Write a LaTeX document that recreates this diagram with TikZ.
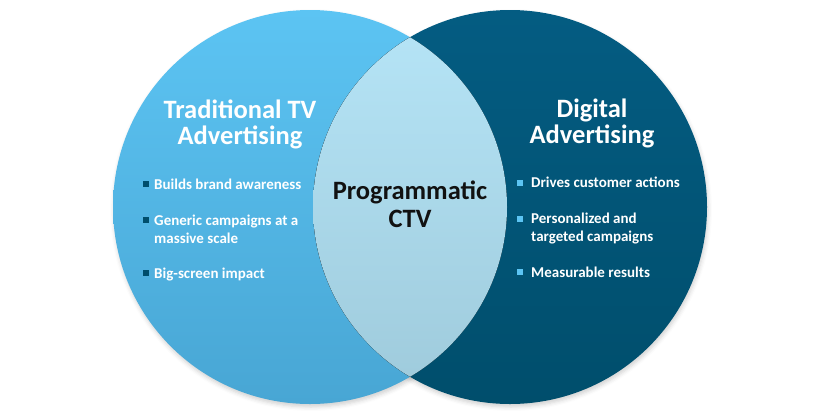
\documentclass[tikz,border=0pt]{standalone}
\usepackage{fontspec}
\setmainfont{Carlito}
\usepackage{xcolor}
\usetikzlibrary{shadows.blur}
\definecolor{skyTop}{RGB}{92, 196, 243}
\definecolor{skyBot}{RGB}{72, 166, 212}
\definecolor{navyTop}{RGB}{4, 92, 130}
\definecolor{navyBot}{RGB}{0, 78, 108}
\definecolor{lensTop}{RGB}{182, 229, 247}
\definecolor{lensBot}{RGB}{158, 202, 219}
\definecolor{ink}{RGB}{17, 17, 17}

\begin{document}
\begin{tikzpicture}[
  x=1pt, y=-1pt,
  every node/.style = {font=\bfseries},
  ring/.style = {circle, minimum size=394pt, inner sep=0pt},
  shd/.style = {blur shadow={shadow xshift=1pt, shadow yshift=-3pt, shadow blur radius=4pt, shadow opacity=18}},
  head/.style = {font=\fontsize{26.5}{26}\selectfont\bfseries, text=white, align=center, anchor=base},
  item/.style = {font=\fontsize{15}{18}\selectfont\bfseries, text=white, align=left, anchor=base west, inner sep=0pt},
  sq/.style = {fill=#1, minimum size=5.5pt, inner sep=0pt}
]
\useasboundingbox (0,0) rectangle (818,416);

% ---- SHADOWS (under both circles) ----
\foreach \cx in {310,510}
  \path[shd] (\cx,207) circle (197pt);

% ---- CIRCLES ----
\node[ring, top color=skyTop, bottom color=skyBot]   (trad) at (310,207) {};
\node[ring, top color=navyTop, bottom color=navyBot] (digi) at (510,207) {};

% ---- OVERLAP ----
\begin{scope}
  \clip (trad.center) circle (197pt);
  \fill[top color=lensTop, bottom color=lensBot] (digi.center) circle (197pt);
\end{scope}

% ---- HEADINGS (anchored on the last baseline) ----
\node[head] (tradT) at (240,144) {Traditional TV\\Advertising};
\node[head] (digiT) at (592,143) {Digital\\Advertising};
\node[head, text=ink, font=\fontsize{26.5}{28}\selectfont\bfseries] (ctv) at (410,227) {Programmatic\\CTV};

% ---- LEFT ITEMS ----
\node[item] (l1) at (154,189) {Builds brand awareness};
\node[item] (l2) at (154,243) {Generic campaigns at a\\massive scale};
\node[item] (l3) at (154,278) {Big-screen impact};
\foreach \n/\y in {1/184, 2/220, 3/273}
  \node[sq=navyBot] (lb\n) at (146,\y) {};

% ---- RIGHT ITEMS ----
\node[item] (r1) at (531,187) {Drives customer actions};
\node[item] (r2) at (531,241) {Personalized and\\targeted campaigns};
\node[item] (r3) at (531,277) {Measurable results};
\foreach \n/\y in {1/183, 2/219, 3/272}
  \node[sq=skyTop] (rb\n) at (520,\y) {};

\end{tikzpicture}
\end{document}
